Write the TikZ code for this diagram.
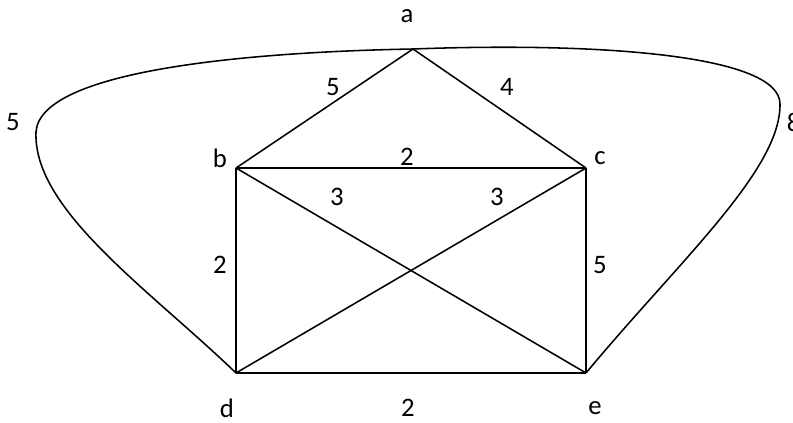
\documentclass[tikz,border=0pt]{standalone}
\usepackage{fontspec}
\setmainfont{Carlito}
\usetikzlibrary{positioning}
\tikzset{
  every picture/.style={line width=1.1pt},
  edge/.style={draw=black, line width=1.1pt},
  vname/.style={font=\fontsize{19}{22}\selectfont, inner sep=0pt},
  weight/.style={font=\fontsize{19}{22}\selectfont, inner sep=0pt},
}

\begin{document}
\begin{tikzpicture}
  \useasboundingbox (0,0) rectangle (19.825,-10.575);
  % vertices
  \coordinate (a) at (10.325,-1.225);
  \coordinate (b) at (5.9,-4.2);
  \coordinate (c) at (14.65,-4.2);
  \coordinate (d) at (5.9,-9.325);
  \coordinate (e) at (14.65,-9.325);
  \coordinate (l) at (0.9,-3.3);
  \coordinate (r) at (19.5,-2.6);
  \node[vname] (na) at (10.175,-0.4) {a};
  \node[vname] (nb) at (5.5,-3.95) {b};
  \node[vname] (nc) at (15.0,-3.95) {c};
  \node[vname] (nd) at (5.675,-10.2) {d};
  \node[vname] (ne) at (14.875,-10.2) {e};
  % edges
  \draw[edge] (a) -- (b);
  \draw[edge] (a) -- (c);
  \draw[edge] (b) -- (c);
  \draw[edge] (b) -- (d);
  \draw[edge] (c) -- (e);
  \draw[edge] (d) -- (e);
  \draw[edge] (b) -- (e);
  \draw[edge] (c) -- (d);
  \draw[edge] (a) .. controls (6.25,-1.3) and (1.0,-1.75) .. (l)
                  .. controls (0.82,-5.25) and (3.75,-7.25) .. (d);
  \draw[edge] (a) .. controls (15.0,-1.05) and (19.5,-1.375) .. (r)
                  .. controls (19.52,-4.25) and (17.0,-6.5) .. (e);
  % weights
  \node[weight] (wab) at (8.325,-2.175) {5};
  \node[weight] (wac) at (12.675,-2.175) {4};
  \node[weight] (wbc) at (10.175,-3.925) {2};
  \node[weight] (wbe) at (8.425,-4.925) {3};
  \node[weight] (wcd) at (12.425,-4.925) {3};
  \node[weight] (wbd) at (5.5,-6.625) {2};
  \node[weight] (wce) at (15.0,-6.625) {5};
  \node[weight] (wde) at (10.2,-10.2) {2};
  \node[weight] (wad) at (0.325,-3.05) {5};
  \node[weight, anchor=west] (wae) at (19.65,-3.05) {8};
\end{tikzpicture}
\end{document}
